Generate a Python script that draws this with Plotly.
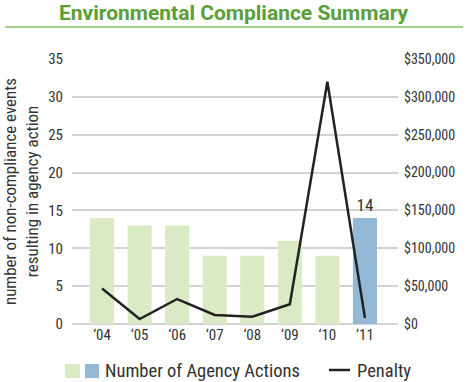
import plotly.graph_objects as go

years = ["‘04", "‘05", "‘06", "‘07", "‘08", "‘09", "‘10", "‘11"]
actions = [14, 13, 13, 9, 9, 11, 9, 14]
penalty = [47000, 6500, 33000, 12000, 9500, 26000, 320000, 8000]
bar_colors = ["#d9eac4"] * 7 + ["#93b9d7"]

FONT = "Liberation Sans Narrow, Roboto Condensed, Arial Narrow, Liberation Sans, sans-serif"
TFONT = "Roboto, Liberation Sans, sans-serif"

fig = go.Figure()
fig.add_trace(go.Bar(x=years, y=actions, marker=dict(color=bar_colors, line=dict(width=0)),
                     width=0.64, name="Number of Agency Actions", showlegend=False,
                     text=[""] * 7 + [str(actions[-1])], textposition="outside",
                     textfont=dict(size=17, color="#333", family=FONT), cliponaxis=False))
fig.add_trace(go.Scatter(x=years, y=penalty, yaxis="y2", mode="lines",
                         line=dict(color="#222", width=2.5), name="Penalty", showlegend=False))

fig.update_layout(
    width=468, height=382,
    margin=dict(l=72, r=70, t=59, b=58, autoexpand=False),
    paper_bgcolor="white", plot_bgcolor="white",
    font=dict(family=FONT, size=14, color="#333"),
    xaxis=dict(range=[-0.8, 7.88], showgrid=False, zeroline=False, showline=False,
               ticks="", tickfont=dict(size=15, color="#333"), automargin=False),
    yaxis=dict(range=[0, 35], dtick=5, showgrid=True, gridcolor="#d3d3d3", gridwidth=1.5,
               zeroline=True, zerolinecolor="#d3d3d3", zerolinewidth=1.5,
               tickfont=dict(size=15, color="#333"), ticklabelstandoff=8, automargin=False,
               title=dict(text="number of non-compliance events<br>resulting in agency action",
                          font=dict(size=17, color="#333"), standoff=10)),
    yaxis2=dict(range=[0, 350000], dtick=50000, overlaying="y", side="right",
                showgrid=False, zeroline=False, tickprefix="$", tickformat=",d", automargin=False,
                tickfont=dict(size=14, color="#333"), ticklabelstandoff=5),
    showlegend=False,
)

def px_x(px):
    return (px - 72) / 326

def px_y(py):
    return (324 - py) / 265

# title and rule
fig.add_annotation(text="<b>Environmental Compliance Summary</b>", xref="paper", yref="paper",
                   x=px_x(234), y=px_y(13), xanchor="center", yanchor="middle", showarrow=False,
                   font=dict(size=21, color="#5a9e3a", family=TFONT))
fig.add_shape(type="line", xref="paper", yref="paper",
              x0=px_x(5), x1=px_x(463), y0=px_y(27), y1=px_y(27),
              line=dict(color="#a8d08d", width=2))

# custom legend
ly = 371
fig.add_shape(type="rect", xref="paper", yref="paper", x0=px_x(65), x1=px_x(80),
              y0=px_y(ly + 7), y1=px_y(ly - 7), fillcolor="#d9eac4", line=dict(width=0))
fig.add_shape(type="rect", xref="paper", yref="paper", x0=px_x(85), x1=px_x(99),
              y0=px_y(ly + 7), y1=px_y(ly - 7), fillcolor="#93b9d7", line=dict(width=0))
fig.add_annotation(text="Number of Agency Actions", xref="paper", yref="paper",
                   x=px_x(103), y=px_y(ly), xanchor="left", yanchor="middle", showarrow=False,
                   font=dict(size=18.5, color="#333", family=FONT))
fig.add_shape(type="line", xref="paper", yref="paper", x0=px_x(329), x1=px_x(350),
              y0=px_y(ly - 1), y1=px_y(ly - 1), line=dict(color="#222", width=2.5))
fig.add_annotation(text="Penalty", xref="paper", yref="paper",
                   x=px_x(355), y=px_y(ly), xanchor="left", yanchor="middle", showarrow=False,
                   font=dict(size=18.5, color="#333", family=FONT))

fig.write_html("out.html", config={"displayModeBar": False},
               post_script="document.body.style.margin='0';")
